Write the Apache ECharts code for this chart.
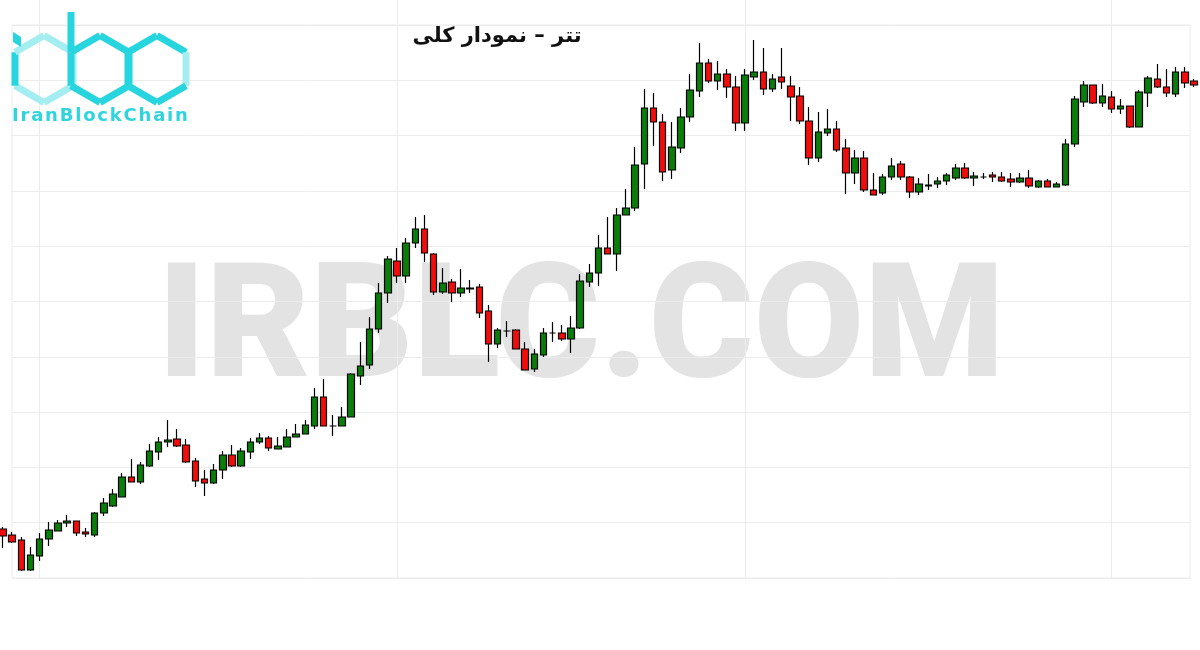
<!DOCTYPE html>
<html>
<head>
<meta charset="utf-8">
<script src="https://cdn.jsdelivr.net/npm/echarts@6/dist/echarts.min.js"></script>
<style>
html,body{margin:0;padding:0;background:#fff;}
#chart{width:1200px;height:650px;}
</style>
</head>
<body>
<div id="chart"></div>
<script>
// ---- data (price units; no axis labels in the original) ----
const titleText = 'تتر – نمودار کلی';
const watermarkText = 'IRBLC.COM';
const brandText = 'IranBlockChain';

const openVals = [121,115,110,80,94,111,119,127,129,118,115,137,144,153,173,168,184,198,208,211,
  205,189,171,167,180,195,184,198,208,212,201,203,213,216,224,253,224,224,233,274,
  285,321,357,389,374,407,421,396,358,368,357,361,363,339,306,319,320,301,281,295,
  317,317,311,322,368,377,402,396,435,442,486,542,528,480,502,533,559,587,569,576,
  563,527,573,578,561,573,564,554,529,492,517,521,502,477,492,460,457,473,486,473,
  458,464,466,469,472,482,472,473,475,473,471,468,472,463,469,463,465,506,548,565,
  547,553,541,544,523,557,571,563,556,578,569];
const closeVals = [114,108,80,95,111,120,127,129,117,116,137,147,156,173,168,185,199,208,210,204,
  188,169,167,180,195,184,199,208,212,202,204,213,216,225,253,224,224,233,276,284,
  321,357,391,374,407,421,397,358,367,357,362,362,337,306,320,319,301,280,296,317,
  317,311,322,369,377,402,396,435,442,485,542,528,478,503,533,560,587,569,576,563,
  527,575,578,561,571,568,553,529,492,518,521,500,477,492,460,455,473,484,473,458,
  466,465,469,475,482,472,474,473,473,469,468,472,464,469,463,466,506,551,565,547,
  554,541,544,523,558,572,563,557,578,567,565];
const lowVals = [102,107,79,79,89,104,119,123,114,113,113,134,143,153,168,166,183,190,203,203,
  187,163,154,166,171,183,183,191,206,199,201,203,213,216,221,224,214,224,233,265,
  281,317,347,367,367,402,388,355,356,348,353,357,332,288,302,313,301,280,278,293,
  308,309,297,321,363,364,396,379,435,439,461,504,469,471,497,528,553,567,560,552,
  519,519,570,555,558,561,529,526,485,488,514,498,456,466,458,455,455,470,470,452,
  455,460,462,465,470,471,464,471,468,468,463,467,462,462,463,463,464,503,543,546,
  543,537,536,522,523,543,562,553,553,562,563];
const highVals = [123,118,113,103,117,128,130,135,129,122,138,152,161,177,191,188,206,213,230,221,
  211,192,180,186,199,205,202,212,217,214,213,221,226,230,262,271,235,243,277,308,
  333,367,394,402,412,433,435,397,382,371,381,370,366,345,322,329,321,308,301,322,
  328,325,334,376,386,415,433,442,461,503,561,557,536,528,542,576,607,591,589,581,
  574,581,610,602,576,602,574,563,543,538,541,529,511,500,499,477,476,492,489,474,
  472,476,473,477,486,487,478,477,478,478,477,477,480,470,471,468,511,554,569,565,
  566,559,551,544,560,574,586,581,583,583,571];

const candleCount = openVals.length;
const periods = Array.from({length: candleCount}, (_, i) => String(i + 1));
const verticalGridAt = [4, 43, 81, 121];

const candleData = periods.map((_, i) => [openVals[i], closeVals[i], lowVals[i], highVals[i]]);

// ---- logo helper (decorative hexagons) ----
function hexPts(cx, cy, r) {
  const pts = [];
  for (let k = 0; k < 6; k++) {
    const a = (-90 + 60 * k) * Math.PI / 180;
    pts.push([cx + r * Math.cos(a), cy + r * Math.sin(a)]);
  }
  return pts;
}
const CY = '#27d5de', CYL = '#a4eef1';
const R = 33.5, HC = 69;
function seg(p, q, color) {
  return {type: 'polyline', shape: {points: [p, q]}, style: {stroke: color, lineWidth: 7, lineCap: 'butt', lineJoin: 'miter'}, z: 1};
}
function hexEdges(cx, colors) {
  const p = hexPts(cx, HC, R);
  const out = [];
  for (let k = 0; k < 6; k++) out.push(seg(p[k], p[(k + 1) % 6], colors[k]));
  return out;
}
const spaced = brandText.split('').join('\u200A');
const logo = [].concat(
  hexEdges(44, [CYL, CYL, CYL, CYL, CY, CYL]),
  hexEdges(100, [CY, CY, CY, CY, CY, CY]),
  hexEdges(157, [CY, CYL, CY, CY, CY, CY]),
  [seg([100 - R * Math.sqrt(3) / 2, 12], [100 - R * Math.sqrt(3) / 2, HC - R / 2], CY),
   {type: 'polygon', shape: {points: [[13, 32], [21, 37], [21, 47], [13, 42]]}, style: {fill: CY}, z: 1},
   {type: 'text', x: 12, y: 116, style: {text: spaced, fill: '#2fd4dc', font: 'bold 18px "DejaVu Sans"', textVerticalAlign: 'middle'}, z: 1}]
);

const chart = echarts.init(document.getElementById('chart'), null, {renderer: 'canvas'});
chart.setOption({
  animation: false,
  backgroundColor: '#ffffff',
  title: {
    text: titleText,
    left: 492, top: 21, textAlign: 'center',
    textStyle: {fontFamily: 'DejaVu Sans', fontWeight: 'bold', fontSize: 21, color: '#111'}
  },
  graphic: [
    {type: 'text', x: 581, y: 336, z: 0,
     style: {text: watermarkText, fill: '#e3e3e3', font: '900 160px Roboto', textAlign: 'center', textVerticalAlign: 'middle'}}
  ].concat(logo),
  grid: [
    {left: 3, right: 6, top: 0, bottom: 72},
    {left: 12, right: 10, top: 25, bottom: 72, show: true, borderColor: '#ececec', borderWidth: 1, backgroundColor: 'transparent'}
  ],
  xAxis: [
    {type: 'category', gridIndex: 0, data: periods, boundaryGap: false,
     axisLine: {show: false}, axisTick: {show: false}, axisLabel: {show: false},
     splitLine: {show: true, interval: (idx) => verticalGridAt.includes(idx), lineStyle: {color: '#ececec', width: 1}}},
    {type: 'value', gridIndex: 1, min: 0, max: 1, show: false}
  ],
  yAxis: [
    {type: 'value', gridIndex: 0, min: 72, max: 650, show: false, splitLine: {show: false}},
    {type: 'value', gridIndex: 1, min: 0, max: 10, interval: 1,
     axisLine: {show: false}, axisTick: {show: false}, axisLabel: {show: false},
     splitLine: {show: true, lineStyle: {color: '#ececec', width: 1}}}
  ],
  series: [{
    type: 'candlestick',
    xAxisIndex: 0, yAxisIndex: 0,
    data: candleData,
    barWidth: 7,
    clip: false,
    z: 5,
    itemStyle: {
      color: '#0a7d0a', color0: '#f20d0d',
      borderColor: '#000', borderColor0: '#000', borderColorDoji: '#000', borderWidth: 1.2
    }
  }]
});
</script>
</body>
</html>
